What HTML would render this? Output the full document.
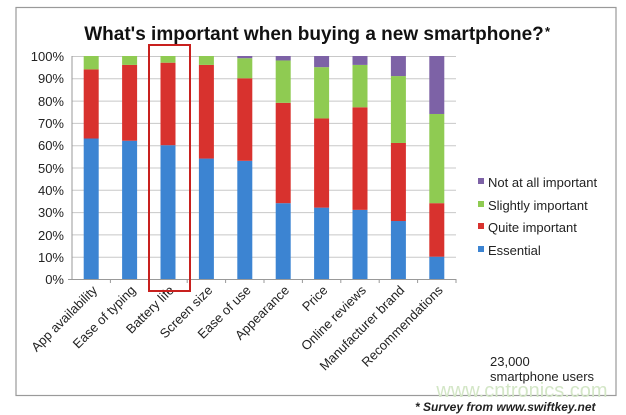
<!DOCTYPE html>
<html><head><meta charset="utf-8"><style>
html,body{margin:0;padding:0;background:#fff;}
svg{display:block;font-family:"Liberation Sans",sans-serif;}
</style></head><body>
<svg width="626" height="415" viewBox="0 0 626 415" xmlns="http://www.w3.org/2000/svg">
<rect x="0" y="0" width="626" height="415" fill="#fff"/>
<rect x="16" y="7.5" width="600" height="388" fill="none" stroke="#9a9a9a" stroke-width="1.2"/>
<text x="314" y="40" text-anchor="middle" font-size="19" font-weight="bold" fill="#111">What's important when buying a new smartphone?</text>
<text x="545" y="36" font-size="13" font-weight="bold" fill="#111">*</text>
<g stroke="#c8c8c8" stroke-width="1">
<line x1="72" y1="56.5" x2="456" y2="56.5"/><line x1="72" y1="78.8" x2="456" y2="78.8"/><line x1="72" y1="101.1" x2="456" y2="101.1"/><line x1="72" y1="123.4" x2="456" y2="123.4"/><line x1="72" y1="145.7" x2="456" y2="145.7"/><line x1="72" y1="168" x2="456" y2="168"/><line x1="72" y1="190.3" x2="456" y2="190.3"/><line x1="72" y1="212.6" x2="456" y2="212.6"/><line x1="72" y1="234.9" x2="456" y2="234.9"/><line x1="72" y1="257.2" x2="456" y2="257.2"/>
</g>
<line x1="72" y1="56" x2="72" y2="280" stroke="#999"/>
<line x1="68" y1="279.5" x2="456" y2="279.5" stroke="#999"/>
<g font-size="13" fill="#222" text-anchor="end">
<text x="64" y="61">100%</text><text x="64" y="83">90%</text><text x="64" y="106">80%</text><text x="64" y="128">70%</text><text x="64" y="150">60%</text><text x="64" y="173">50%</text><text x="64" y="195">40%</text><text x="64" y="217">30%</text><text x="64" y="240">20%</text><text x="64" y="262">10%</text><text x="64" y="284">0%</text>
</g>
<g>
<rect x="83.7" y="138.51" width="15" height="140.49" fill="#3c84d2"/><rect x="83.7" y="69.38" width="15" height="69.13" fill="#d8322e"/><rect x="83.7" y="56" width="15" height="13.38" fill="#8fcb52"/>
<rect x="122.1" y="140.74" width="15" height="138.26" fill="#3c84d2"/><rect x="122.1" y="64.92" width="15" height="75.82" fill="#d8322e"/><rect x="122.1" y="56" width="15" height="8.92" fill="#8fcb52"/>
<rect x="160.5" y="145.2" width="15" height="133.8" fill="#3c84d2"/><rect x="160.5" y="62.69" width="15" height="82.51" fill="#d8322e"/><rect x="160.5" y="56" width="15" height="6.69" fill="#8fcb52"/>
<rect x="198.9" y="158.58" width="15" height="120.42" fill="#3c84d2"/><rect x="198.9" y="64.92" width="15" height="93.66" fill="#d8322e"/><rect x="198.9" y="56" width="15" height="8.92" fill="#8fcb52"/>
<rect x="237.3" y="160.81" width="15" height="118.19" fill="#3c84d2"/><rect x="237.3" y="78.3" width="15" height="82.51" fill="#d8322e"/><rect x="237.3" y="58.23" width="15" height="20.07" fill="#8fcb52"/><rect x="237.3" y="56" width="15" height="2.23" fill="#7d62a6"/>
<rect x="275.7" y="203.18" width="15" height="75.82" fill="#3c84d2"/><rect x="275.7" y="102.83" width="15" height="100.35" fill="#d8322e"/><rect x="275.7" y="60.46" width="15" height="42.37" fill="#8fcb52"/><rect x="275.7" y="56" width="15" height="4.46" fill="#7d62a6"/>
<rect x="314.1" y="207.64" width="15" height="71.36" fill="#3c84d2"/><rect x="314.1" y="118.44" width="15" height="89.2" fill="#d8322e"/><rect x="314.1" y="67.15" width="15" height="51.29" fill="#8fcb52"/><rect x="314.1" y="56" width="15" height="11.15" fill="#7d62a6"/>
<rect x="352.5" y="209.87" width="15" height="69.13" fill="#3c84d2"/><rect x="352.5" y="107.29" width="15" height="102.58" fill="#d8322e"/><rect x="352.5" y="64.92" width="15" height="42.37" fill="#8fcb52"/><rect x="352.5" y="56" width="15" height="8.92" fill="#7d62a6"/>
<rect x="390.9" y="221.02" width="15" height="57.98" fill="#3c84d2"/><rect x="390.9" y="142.97" width="15" height="78.05" fill="#d8322e"/><rect x="390.9" y="76.07" width="15" height="66.9" fill="#8fcb52"/><rect x="390.9" y="56" width="15" height="20.07" fill="#7d62a6"/>
<rect x="429.3" y="256.7" width="15" height="22.3" fill="#3c84d2"/><rect x="429.3" y="203.18" width="15" height="53.52" fill="#d8322e"/><rect x="429.3" y="113.98" width="15" height="89.2" fill="#8fcb52"/><rect x="429.3" y="56" width="15" height="57.98" fill="#7d62a6"/>
</g>
<g stroke="#999">
<line x1="110.4" y1="279" x2="110.4" y2="283"/><line x1="148.8" y1="279" x2="148.8" y2="283"/><line x1="187.2" y1="279" x2="187.2" y2="283"/><line x1="225.6" y1="279" x2="225.6" y2="283"/><line x1="264" y1="279" x2="264" y2="283"/><line x1="302.4" y1="279" x2="302.4" y2="283"/><line x1="340.8" y1="279" x2="340.8" y2="283"/><line x1="379.2" y1="279" x2="379.2" y2="283"/><line x1="417.6" y1="279" x2="417.6" y2="283"/><line x1="456" y1="279" x2="456" y2="283"/>
</g>
<g font-size="13" fill="#222" text-anchor="end">
<text transform="translate(98,291) rotate(-45)">App availability</text>
<text transform="translate(136.4,291) rotate(-45)">Ease of typing</text>
<text transform="translate(174.8,291) rotate(-45)">Battery life</text>
<text transform="translate(213.2,291) rotate(-45)">Screen size</text>
<text transform="translate(251.6,291) rotate(-45)">Ease of use</text>
<text transform="translate(290,291) rotate(-45)">Appearance</text>
<text transform="translate(328.4,291) rotate(-45)">Price</text>
<text transform="translate(366.8,291) rotate(-45)">Online reviews</text>
<text transform="translate(405.2,291) rotate(-45)">Manufacturer brand</text>
<text transform="translate(443.6,291) rotate(-45)">Recommendations</text>
</g>
<rect x="149" y="45" width="41" height="246" fill="none" stroke="#c8201e" stroke-width="2"/>
<g font-size="13" fill="#222">
<rect x="478" y="178" width="6" height="6" fill="#7d62a6"/><text x="488" y="187">Not at all important</text>
<rect x="478" y="201" width="6" height="6" fill="#8fcb52"/><text x="488" y="210">Slightly important</text>
<rect x="478" y="223" width="6" height="6" fill="#d8322e"/><text x="488" y="232">Quite important</text>
<rect x="478" y="246" width="6" height="6" fill="#3c84d2"/><text x="488" y="255">Essential</text>
<text x="490" y="366">23,000</text>
<text x="490" y="381">smartphone users</text>
</g>
<text x="522" y="397" font-size="20" fill="#d3e6c6" text-anchor="middle">www.cntronics.com</text>
<text x="415" y="411" font-size="12" font-weight="bold" font-style="italic" fill="#222">* Survey from www.swiftkey.net</text>
</svg>
</body></html>
